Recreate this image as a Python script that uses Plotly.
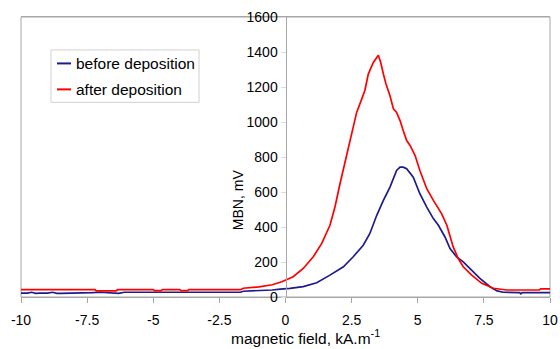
import plotly.graph_objects as go

# ---- data ----
blue_x = [-10, -9.75, -9.6, -9.45, -9.3, -9.0, -8.8, -8.65, -8.5, -8.0, -7.75, -7.6, -7.3, -7.0,
          -6.8, -6.6, -6.3, -6.1, -6.0, -5.0, -4.0, -3.0, -2.0, -1.7, -1.6, -1.0, -0.5, -0.2,
          0.17, 0.67, 1.18, 1.68, 2.19, 2.56, 2.94, 3.19, 3.45, 3.7, 3.95, 4.2, 4.33, 4.45,
          4.58, 4.83, 5.08, 5.34, 5.59, 5.78, 6.03, 6.22, 6.47, 6.72, 6.98, 7.35, 7.73, 8.0,
          8.23, 8.5, 8.85, 8.9, 8.95, 9.5, 10]
blue_y = [22, 22, 27, 21, 22, 22, 27, 21, 21, 21, 25, 25, 25, 27,
          25, 21, 21, 27, 27, 27, 27, 27, 27, 27, 33, 36, 40, 45,
          49, 59, 81, 125, 173, 230, 296, 363, 467, 552, 628, 723, 742, 742,
          733, 685, 590, 514, 448, 410, 343, 277, 229, 201, 163, 106, 59, 35,
          27, 25, 25, 18, 25, 25, 25]

red_x = [-10, -7.2, -7.15, -6.4, -6.35, -5.0, -4.95, -4.7, -4.65, -4.0, -3.95, -3.7, -3.65,
         -1.7, -1.6, -1.0, -0.5, -0.14, 0.29, 0.67, 1.05, 1.37, 1.68, 1.87, 2.06, 2.25,
         2.46, 2.69, 2.88, 3.0, 3.13, 3.32, 3.51, 3.6, 3.7, 3.8, 3.95, 4.08, 4.2, 4.33,
         4.45, 4.58, 4.71, 4.9, 5.08, 5.34, 5.59, 5.9, 6.1, 6.34, 6.53, 6.72, 7.04, 7.42,
         7.86, 8.36, 9.0, 9.6, 9.65, 10]
red_y = [42, 42, 35, 35, 42, 42, 36, 36, 42, 42, 36, 36, 42,
         42, 50, 58, 70, 87, 116, 163, 230, 306, 410, 514, 647, 770,
         894, 1055, 1131, 1180, 1274, 1340, 1382, 1340, 1274, 1217, 1150, 1075, 1055, 1008,
         951, 894, 866, 808, 723, 619, 552, 477, 410, 286, 220, 173, 125, 78,
         50, 40, 40, 40, 46, 46]

x_ticks = [-10, -7.5, -5, -2.5, 0, 2.5, 5, 7.5, 10]
x_tick_labels = ["-10", "-7.5", "-5", "-2.5", "0", "2.5", "5", "7.5", "10"]
y_ticks = [0, 200, 400, 600, 800, 1000, 1200, 1400, 1600]

series_names = ["before deposition", "after deposition"]
series_colors = ["#1c1c8a", "#ff0000"]

FONT = "Arial, Liberation Sans, sans-serif"
GRAY = "#a6a6a6"

fig = go.Figure()
fig.add_trace(go.Scatter(x=blue_x, y=blue_y, mode="lines", name=series_names[0],
                         line=dict(color=series_colors[0], width=1.7),
                         showlegend=False))
fig.add_trace(go.Scatter(x=red_x, y=red_y, mode="lines", name=series_names[1],
                         line=dict(color=series_colors[1], width=1.7),
                         showlegend=False))

L, R, T, B = 21, 10, 16.5, 52
W, H = 560, 349
pw, ph = W - L - R, H - T - B

def px(xp):
    return (xp - L) / pw

def py(yp):
    return (H - B - yp) / ph

fig.update_layout(
    template="none",
    width=W, height=H, autosize=False,
    margin=dict(l=L, r=R, t=T, b=B, pad=0),
    paper_bgcolor="white", plot_bgcolor="white",
    font=dict(family=FONT, size=14, color="black"),
    xaxis=dict(range=[-10, 10], tickvals=x_ticks, ticktext=x_tick_labels, automargin=False,
               showgrid=False, zeroline=False, showline=True, linecolor=GRAY, linewidth=1,
               mirror=True, ticks="outside", ticklen=5, tickcolor=GRAY, ticklabelstandoff=5,
               tickfont=dict(size=14, family=FONT, color="black")),
    yaxis=dict(range=[0, 1600], tickvals=y_ticks, showgrid=False, zeroline=False, automargin=False,
               showline=True, linecolor=GRAY, linewidth=1, anchor="free", position=0.5,
               ticks="outside", ticklen=5, tickcolor="#dddddd",
               tickfont=dict(size=14, family=FONT, color="black")),
    showlegend=False,
)

# plot frame (left/right)
fig.add_shape(type="rect", xref="paper", yref="paper", x0=0, x1=1, y0=0, y1=1,
              line=dict(color=GRAY, width=1), fillcolor="rgba(0,0,0,0)", layer="below")

# axis titles
fig.add_annotation(text="MBN, mV", xref="paper", yref="paper", x=px(238), y=py(200),
                   textangle=-90, showarrow=False, font=dict(size=14, family=FONT),
                   xanchor="center", yanchor="middle")
fig.add_annotation(text="magnetic field, kA.m<sup>-1</sup>", xref="paper", yref="paper",
                   x=px(305.5), y=py(337), showarrow=False, font=dict(size=15.5, family=FONT),
                   xanchor="center", yanchor="middle")

# legend (manual)
fig.add_shape(type="rect", xref="paper", yref="paper", x0=px(51), x1=px(199), y0=py(102), y1=py(49.5),
              line=dict(color="#d0d0d0", width=1), fillcolor="white")
for i, yy in enumerate([63, 89]):
    fig.add_shape(type="line", xref="paper", yref="paper", x0=px(57), x1=px(71), y0=py(yy), y1=py(yy),
                  line=dict(color=series_colors[i], width=2))
    fig.add_annotation(text=series_names[i], xref="paper", yref="paper", x=px(74), y=py(yy),
                       xanchor="left", yanchor="middle", showarrow=False,
                       font=dict(size=15.5, family=FONT))

fig.write_html(
    "out.html",
    config={"displayModeBar": False, "responsive": False},
    post_script="document.documentElement.style.overflow='hidden';"
                "document.body.style.overflow='hidden';"
                "document.body.style.margin='0';",
)
